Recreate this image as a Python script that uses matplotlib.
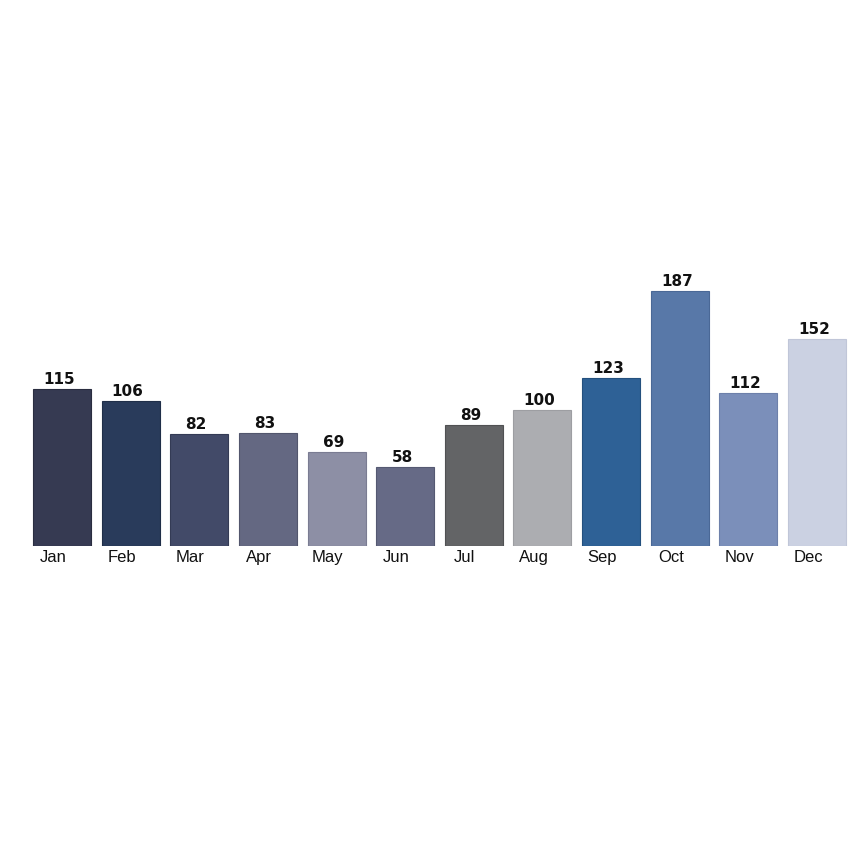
import matplotlib
matplotlib.use("Agg")
import matplotlib.pyplot as plt
import matplotlib.transforms as mtransforms

# monthly values
months = ["Jan", "Feb", "Mar", "Apr", "May", "Jun",
          "Jul", "Aug", "Sep", "Oct", "Nov", "Dec"]
values = [115, 106, 82, 83, 69, 58, 89, 100, 123, 187, 112, 152]
colors = ["#363a52", "#293b5b", "#424a68", "#646882", "#8d8fa5", "#666a86",
          "#636466", "#acadb1", "#2e6196", "#5878a8", "#7b8fba", "#cbd1e2"]
edges = ["#2a2d40", "#1f2e48", "#343b55", "#52566d", "#7a7c92", "#555972",
         "#505153", "#9d9ea2", "#24507e", "#4a6896", "#6d80aa", "#c0c6d8"]

plt.rcParams["font.family"] = ["Liberation Sans", "DejaVu Sans"]

fig = plt.figure(figsize=(8.65, 8.65), dpi=100)
# axes placed in pixels: left 31, right 848, baseline at y=546
W, H = 865, 865
ax = fig.add_axes([31 / W, 1 - 546 / H, (848 - 31) / W, 272.7 / H])

x = range(len(months))
bars = ax.bar(x, values, width=0.845, color=colors, edgecolor=edges,
              linewidth=0.8)

ax.set_xlim(-0.45, 11.45)
ax.set_ylim(0, 200)

# value labels above bars, a touch left of centre like the original
shift_num = mtransforms.ScaledTranslation(-3 / 100, 2 / 100, fig.dpi_scale_trans)
for b, v in zip(bars, values):
    ax.text(b.get_x() + b.get_width() / 2, v, str(v),
            ha="center", va="bottom", fontsize=11, fontweight="bold",
            family="DejaVu Sans", color="#111111",
            transform=ax.transData + shift_num)

ax.set_xticks(list(x))
ax.set_xticklabels(months, fontsize=12, color="#111111")
ax.tick_params(axis="x", length=0, pad=3)
shift_tick = mtransforms.ScaledTranslation(-9 / 100, 0, fig.dpi_scale_trans)
for lbl in ax.get_xticklabels():
    lbl.set_transform(lbl.get_transform() + shift_tick)

ax.set_yticks([])
for s in ax.spines.values():
    s.set_visible(False)

fig.savefig("out.png", dpi=100)
